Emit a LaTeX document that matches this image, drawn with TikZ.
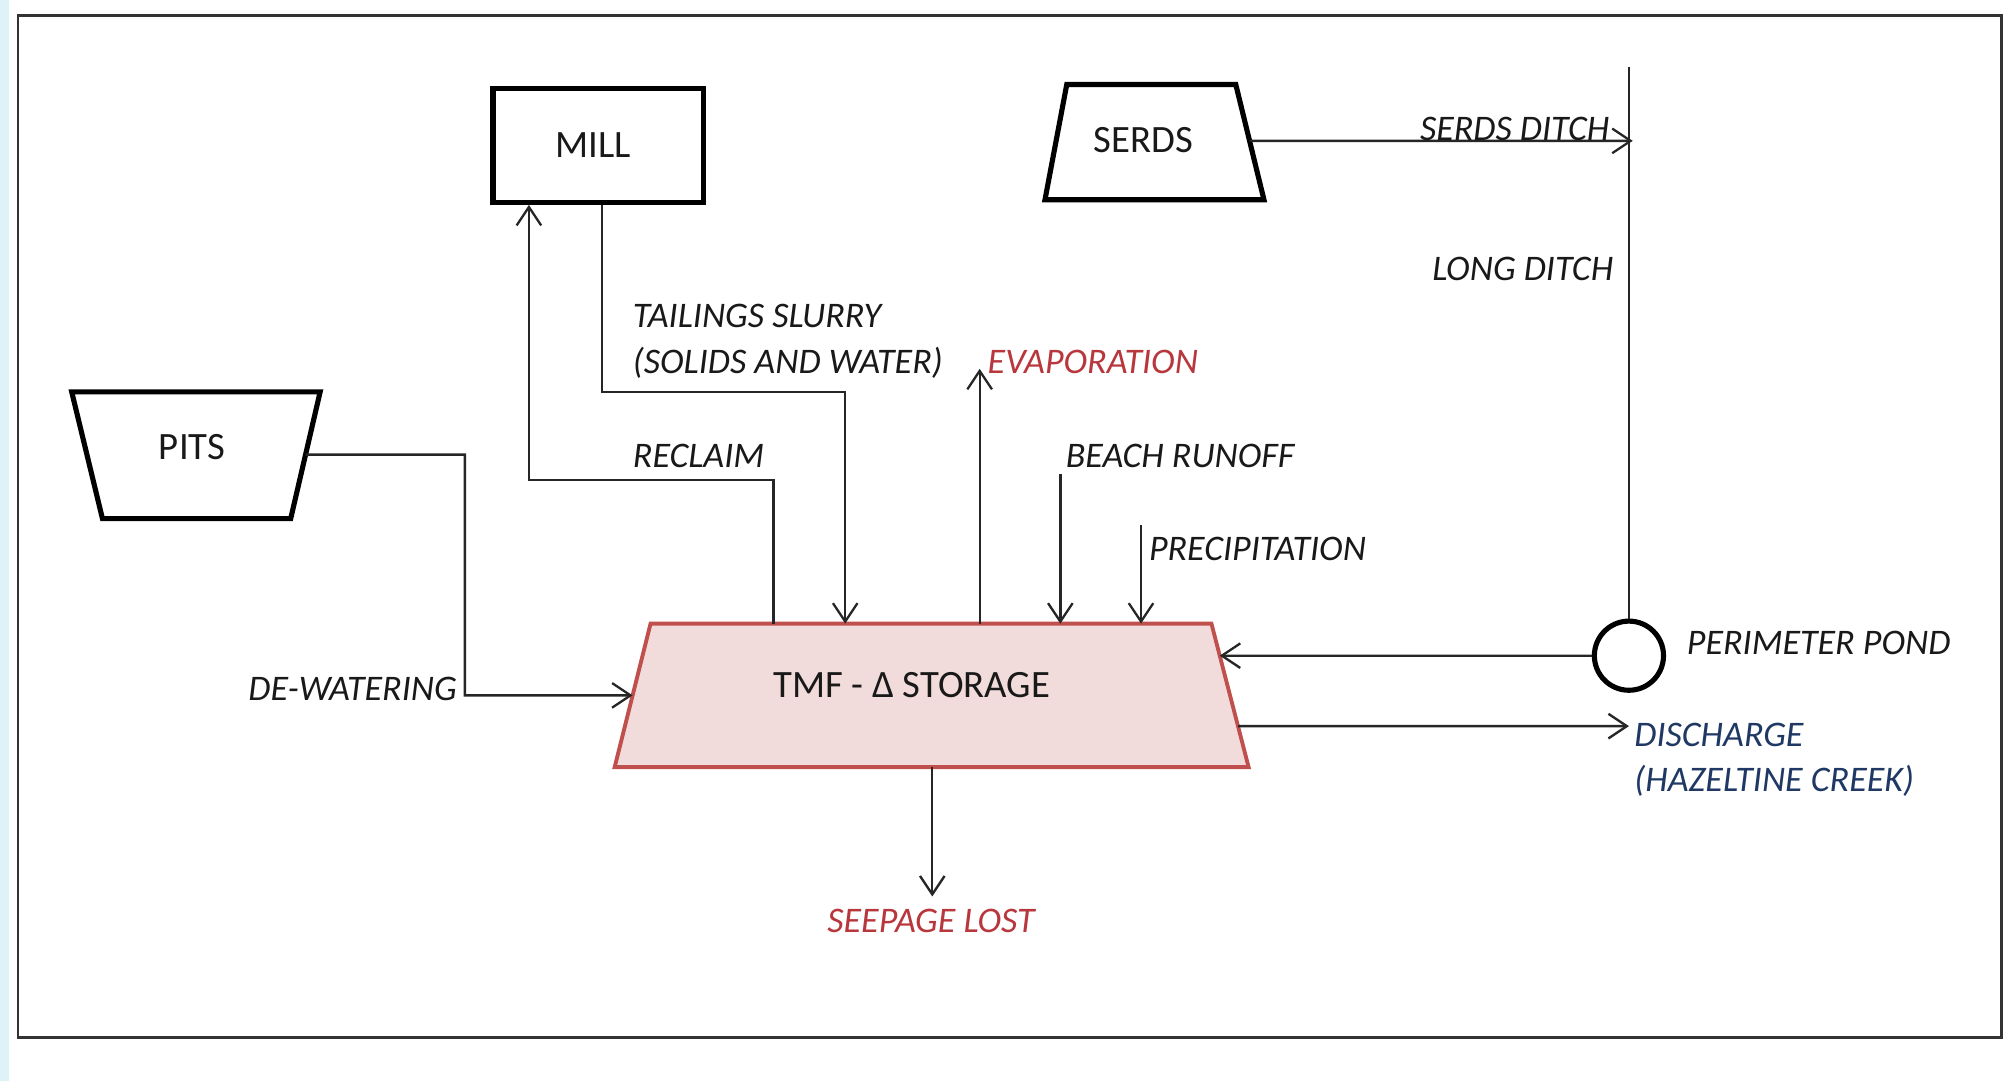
\documentclass[tikz,border=0pt]{standalone}
\usepackage{fontspec}
\setmainfont{Carlito}
\usetikzlibrary{arrows.meta,calc}
\definecolor{tmfred}{HTML}{C0504D}
\definecolor{tmffill}{HTML}{F2DCDB}
\definecolor{txtred}{HTML}{B8373D}
\definecolor{txtblue}{HTML}{1F3864}
\definecolor{framegray}{HTML}{333333}
\definecolor{stripcyan}{HTML}{DDF3F8}
\begin{document}
\begin{tikzpicture}[x=0.25mm,y=-0.25mm,
  >={Straight Barb[length=3.6mm,width=4.8mm]},
  lbl/.style={font=\fontsize{20}{24}\selectfont\itshape, inner sep=0pt, text=black!90},
  boxtxt/.style={font=\fontsize{21.5}{26}\selectfont, inner sep=0pt, text=black!90},
  thickline/.style={draw=black, line width=1mm, line join=miter},
  flow/.style={draw=black!85, line width=0.45mm},
]
\useasboundingbox (0,0) rectangle (1568,844);
\fill[white] (0,0) rectangle (1568,844);
\fill[stripcyan] (0,0) rectangle (7,844);
\draw[framegray, line width=0.5mm] (14,12) rectangle (1563,810);

% corner coordinates of the shapes
\coordinate (tmfTL) at (508,487); \coordinate (tmfTR) at (946,487);
\coordinate (tmfBR) at (975,599); \coordinate (tmfBL) at (480,599);
\coordinate (serTL) at (833,66);  \coordinate (serTR) at (965,66);
\coordinate (serBR) at (987,156); \coordinate (serBL) at (816,156);
\coordinate (pitTL) at (56,306);  \coordinate (pitTR) at (250,306);
\coordinate (pitBR) at (227,405); \coordinate (pitBL) at (80,405);

% shapes
\node[thickline, rectangle, minimum width=41mm, minimum height=22.25mm, boxtxt] (mill) at (467,113.5) {};
\node[boxtxt] (millt) at (463,113) {MILL};
\draw[thickline] (serTL) -- (serTR) -- (serBR) -- (serBL) -- cycle;
\node[boxtxt] (serds) at (893,109) {SERDS};
\draw[thickline] (pitTL) -- (pitTR) -- (pitBR) -- (pitBL) -- cycle;
\node[boxtxt] (pits) at (150,349) {PITS};
\draw[draw=tmfred, fill=tmffill, line width=0.75mm, line join=miter] (tmfTL) -- (tmfTR) -- (tmfBR) -- (tmfBL) -- cycle;
\node[boxtxt] (tmf) at (712,535) {TMF - Δ STORAGE};
\node[draw=black, line width=1mm, circle, minimum size=13.5mm, inner sep=0pt] (pond) at (1272,512) {};

% connector coordinates
\coordinate (ditchtop) at (1272,52);
\coordinate (sdl) at (900,110);
\coordinate (sdr) at (1275,110);
\coordinate (dis) at (1272,567);
\coordinate (disl) at (700,567);
\coordinate (pitr) at (363,355);
\coordinate (pitl) at (100,355);
\coordinate (dw) at (363,543);
\coordinate (dwr) at (700,543);
\coordinate (tsl) at (470,306);
\coordinate (tin) at (660,306);
\coordinate (rc) at (604,375);
\coordinate (rcm) at (413,375);
\coordinate (ev) at (765,288);
\coordinate (br) at (828,370);
\coordinate (pr) at (891,410);
\coordinate (sp) at (728,700);

% connectors
\draw[flow,->] (intersection of sdl--sdr and serTR--serBR) -- (sdr);
\draw[flow] (ditchtop) -- (pond.north);
\draw[flow,->] (pond.west) -- (intersection of pond.west--pond.center and tmfTR--tmfBR);
\draw[flow,->] (intersection of dis--disl and tmfTR--tmfBR) -- (dis);
\draw[flow,->] (intersection of pitl--pitr and pitTR--pitBR) -- (pitr) -- (dw) -- (intersection of dw--dwr and tmfTL--tmfBL);
\draw[flow,->] (tsl |- mill.south) -- (tsl) -- (tin) -- (tin |- tmfTL);
\draw[flow,->] (rc |- tmfTL) -- (rc) -- (rcm) -- (rcm |- mill.south);
\draw[flow,->] (ev |- tmfTL) -- (ev);
\draw[flow,->] (br) -- (br |- tmfTL);
\draw[flow,->] (pr) -- (pr |- tmfTL);
\draw[flow,->] (sp |- tmfBL) -- (sp);

% labels
\node[lbl, anchor=east] (l-serdsditch) at (1257,101) {SERDS DITCH};
\node[lbl, anchor=east] (l-longditch) at (1260,210) {LONG DITCH};
\node[lbl, anchor=west] (l-tail1) at (494,247) {TAILINGS SLURRY};
\node[lbl, anchor=west] (l-tail2) at (494,283) {(SOLIDS AND WATER)};
\node[lbl, anchor=west] (l-reclaim) at (494,356) {RECLAIM};
\node[lbl, anchor=west, text=txtred] (l-evap) at (771,283) {EVAPORATION};
\node[lbl, anchor=west] (l-beach) at (832,356) {BEACH RUNOFF};
\node[lbl, anchor=west] (l-precip) at (897,429) {PRECIPITATION};
\node[lbl, anchor=east] (l-dewater) at (357,538) {DE-WATERING};
\node[lbl, anchor=west] (l-pond) at (1317,502) {PERIMETER POND};
\node[lbl, anchor=west, text=txtblue] (l-dis1) at (1276,574) {DISCHARGE};
\node[lbl, anchor=west, text=txtblue] (l-dis2) at (1276,610) {(HAZELTINE CREEK)};
\node[lbl, text=txtred] (l-seep) at (727,719) {SEEPAGE LOST};
\end{tikzpicture}
\end{document}
